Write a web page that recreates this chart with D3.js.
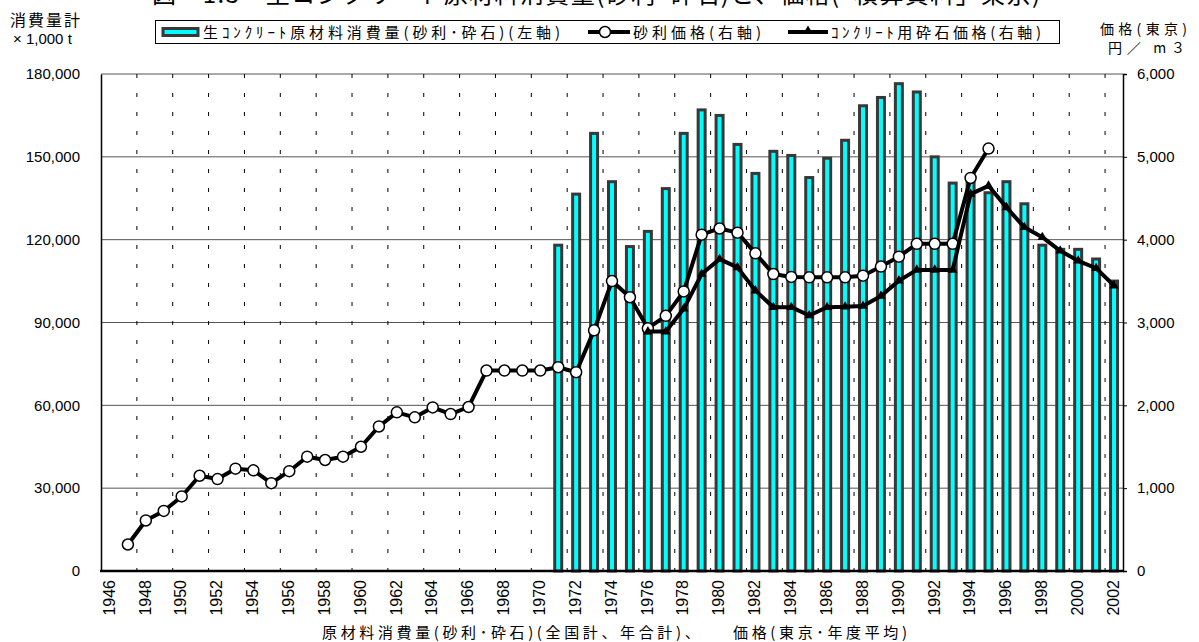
<!DOCTYPE html>
<html>
<head>
<meta charset="utf-8">
<script src="https://cdn.jsdelivr.net/npm/d3@7"></script>
<style>
  body { margin: 0; background: #fff; }
  svg { display: block; }
  text { font-family: "Liberation Sans", Arial, "Noto Sans CJK JP", sans-serif; fill: #000; }
  .jp { font-family: "Noto Sans CJK JP", sans-serif; }
</style>
</head>
<body>
<svg id="chart" width="1199" height="642"></svg>
<script>
const years = d3.range(1946, 2003);
const tickYears = years.filter(y => y % 2 === 0);

const barYears = [1971, 1972, 1973, 1974, 1975, 1976, 1977, 1978, 1979, 1980, 1981, 1982, 1983, 1984, 1985, 1986,
  1987, 1988, 1989, 1990, 1991, 1992, 1993, 1994, 1995, 1996, 1997, 1998, 1999, 2000, 2001, 2002];
const consumption = [118000, 136500, 158500, 141000, 117500, 123000, 138500, 158500, 167000, 165000, 154500, 144000,
  152000, 150500, 142500, 149500, 156000, 168500, 171500, 176500, 173500, 150000, 140500, 142000, 137000, 141000,
  133000, 118000, 116500, 116500, 113000, 105000];

const gravelYears = d3.range(1947, 1996);
const gravelPrice = [320, 610, 725, 900, 1150, 1110, 1235, 1215, 1060, 1205, 1380, 1340, 1380, 1500, 1745, 1915,
  1855, 1975, 1895, 1980, 2420, 2420, 2420, 2420, 2460, 2400, 2905, 3500, 3305, 2930, 3080, 3375, 4060, 4135,
  4085, 3835, 3585, 3550, 3545, 3545, 3545, 3565, 3675, 3795, 3950, 3950, 3950, 4745, 5100];

const crushedYears = d3.range(1976, 2003);
const crushedPrice = [2890, 2890, 3165, 3585, 3765, 3665, 3385, 3185, 3185, 3085, 3185, 3190, 3200, 3320, 3505,
  3635, 3635, 3635, 4550, 4650, 4390, 4150, 4030, 3865, 3745, 3655, 3445];

const leftTicks = [0, 30000, 60000, 90000, 120000, 150000, 180000];
const rightTicks = [0, 1000, 2000, 3000, 4000, 5000, 6000];

const svg = d3.select("#chart");
const plotL = 101, plotR = 1123, plotT = 74, plotB = 571;

const x = d3.scaleBand().domain(years).range([plotL, plotR]).padding(0);
const yL = d3.scaleLinear().domain([0, 180000]).range([plotB, plotT]);
const yR = d3.scaleLinear().domain([0, 6000]).range([plotB, plotT]);
const cx = d => x(d) + x.bandwidth() / 2;
const fmt = d3.format(",");

// title, cut at the top edge
svg.append("text").attr("class", "jp")
  .attr("x", 152).attr("y", 3)
  .attr("textLength", 888).attr("lengthAdjust", "spacing")
  .style("font-size", "24px")
  .text("図－1.3　生コンクリート原材料消費量(砂利･砕石)と、価格(「積算資料」東京)");

// grid
svg.append("g").selectAll("line").data(leftTicks.filter(d => d > 0)).join("line")
  .attr("x1", plotL).attr("x2", plotR)
  .attr("y1", d => yL(d)).attr("y2", d => yL(d))
  .attr("stroke", "#555").attr("stroke-width", 1);

svg.append("g").selectAll("line").data(tickYears.filter(d => d > 1946)).join("line")
  .attr("x1", d => x(d)).attr("x2", d => x(d))
  .attr("y1", plotT).attr("y2", plotB)
  .attr("stroke", "#000").attr("stroke-width", 1)
  .attr("stroke-dasharray", "4,15");

// bars
svg.append("g").selectAll("rect").data(barYears).join("rect")
  .attr("x", d => cx(d) - 3.5)
  .attr("width", 7)
  .attr("y", (d, i) => yL(consumption[i]))
  .attr("height", (d, i) => plotB - yL(consumption[i]))
  .attr("fill", "#00ffff")
  .attr("stroke", "#383838")
  .attr("stroke-width", 3);

// axes
const axisL = svg.append("g").attr("transform", `translate(${plotL},0)`)
  .call(d3.axisLeft(yL).tickValues(leftTicks).tickFormat(fmt).tickSize(0).tickPadding(21));
const axisR = svg.append("g").attr("transform", `translate(${plotR},0)`)
  .call(d3.axisRight(yR).tickValues(rightTicks).tickFormat(fmt).tickSize(4).tickPadding(10));
[axisL, axisR].forEach(a => {
  a.select(".domain").attr("stroke", "#000").attr("stroke-width", 1.5);
  a.selectAll("text").style("font-size", "15px").style("font-family", "'Liberation Sans', Arial, sans-serif");
});

svg.append("line")
  .attr("x1", plotL - 1).attr("x2", plotR + 1)
  .attr("y1", plotB).attr("y2", plotB)
  .attr("stroke", "#000").attr("stroke-width", 2.5);

svg.append("g").selectAll("text").data(tickYears).join("text")
  .attr("transform", d => `translate(${cx(d) - 1},580) rotate(-90)`)
  .attr("text-anchor", "end")
  .attr("dy", "0.36em")
  .style("font-size", "16px")
  .text(d => d);

// price lines
const line = d3.line().x(d => cx(d[0])).y(d => yR(d[1]));
const gravel = gravelYears.map((d, i) => [d, gravelPrice[i]]);
const crushed = crushedYears.map((d, i) => [d, crushedPrice[i]]);

svg.append("path").datum(gravel)
  .attr("d", line).attr("fill", "none")
  .attr("stroke", "#000").attr("stroke-width", 4).attr("stroke-linejoin", "round");
svg.append("g").selectAll("circle").data(gravel).join("circle")
  .attr("cx", d => cx(d[0])).attr("cy", d => yR(d[1])).attr("r", 5.5)
  .attr("fill", "#fff").attr("stroke", "#000").attr("stroke-width", 1.5);

const tri = d3.symbol().type(d3.symbolTriangle).size(40);
svg.append("path").datum(crushed)
  .attr("d", line).attr("fill", "none")
  .attr("stroke", "#000").attr("stroke-width", 4).attr("stroke-linejoin", "round");
svg.append("g").selectAll("path").data(crushed).join("path")
  .attr("transform", d => `translate(${cx(d[0])},${yR(d[1])})`)
  .attr("d", tri).attr("fill", "#000");

// legend
const lg = svg.append("g");
lg.append("rect").attr("x", 155.5).attr("y", 20.5).attr("width", 904).attr("height", 23)
  .attr("fill", "#fff").attr("stroke", "#000").attr("stroke-width", 1);
lg.append("rect").attr("x", 163).attr("y", 28.5).attr("width", 35).attr("height", 7)
  .attr("fill", "#00ffff").attr("stroke", "#383838").attr("stroke-width", 3);
lg.append("text").attr("class", "jp").attr("x", 203).attr("y", 38)
  .attr("textLength", 357).attr("lengthAdjust", "spacing").style("font-size", "15px")
  .text("生ｺﾝｸﾘｰﾄ原材料消費量(砂利･砕石)(左軸)");

lg.append("line").attr("x1", 588).attr("x2", 630).attr("y1", 32).attr("y2", 32)
  .attr("stroke", "#000").attr("stroke-width", 4);
lg.append("circle").attr("cx", 605).attr("cy", 32).attr("r", 5.5)
  .attr("fill", "#fff").attr("stroke", "#000").attr("stroke-width", 1.5);
lg.append("text").attr("class", "jp").attr("x", 633).attr("y", 38)
  .attr("textLength", 128).attr("lengthAdjust", "spacing").style("font-size", "15px")
  .text("砂利価格(右軸)");

lg.append("line").attr("x1", 788).attr("x2", 828).attr("y1", 32).attr("y2", 32)
  .attr("stroke", "#000").attr("stroke-width", 4);
lg.append("path").attr("transform", "translate(808,31)").attr("d", tri).attr("fill", "#000");
lg.append("text").attr("class", "jp").attr("x", 831).attr("y", 38)
  .attr("textLength", 210).attr("lengthAdjust", "spacing").style("font-size", "15px")
  .text("ｺﾝｸﾘｰﾄ用砕石価格(右軸)");

// axis titles
svg.append("text").attr("class", "jp").attr("x", 10).attr("y", 26)
  .attr("textLength", 70).attr("lengthAdjust", "spacing").style("font-size", "16px")
  .text("消費量計");
svg.append("text").attr("x", 13).attr("y", 44)
  .style("font-size", "15px")
  .text("× 1,000 t");
svg.append("text").attr("class", "jp").attr("x", 1100).attr("y", 34)
  .attr("textLength", 87).attr("lengthAdjust", "spacing").style("font-size", "14px")
  .text("価格(東京)");
svg.append("text").attr("class", "jp").attr("x", 1108).attr("y", 53)
  .attr("textLength", 77).attr("lengthAdjust", "spacing").style("font-size", "14px")
  .text("円／ m３");

svg.append("text").attr("class", "jp").attr("x", 322).attr("y", 638)
  .attr("textLength", 585).attr("lengthAdjust", "spacing").style("font-size", "15px")
  .text("原材料消費量(砂利･砕石)(全国計、年合計)、　　価格(東京･年度平均)");
</script>
</body>
</html>
